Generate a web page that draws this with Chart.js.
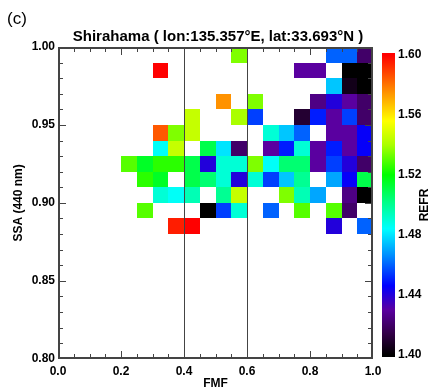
<!DOCTYPE html>
<html>
<head>
<meta charset="utf-8">
<script src="https://cdn.jsdelivr.net/npm/chart.js@4.4.0/dist/chart.umd.min.js"></script>
<style>html,body{margin:0;padding:0;background:#fff}</style>
</head>
<body>
<canvas id="myChart" width="436" height="391"></canvas>
<script>
// Нижние границы ячеек по FMF (шаг 0.05)
const fmfBins = [0.00, 0.05, 0.10, 0.15, 0.20, 0.25, 0.30, 0.35, 0.40, 0.45,
                 0.50, 0.55, 0.60, 0.65, 0.70, 0.75, 0.80, 0.85, 0.90, 0.95];
// Нижние границы ячеек по SSA (шаг 0.01), сверху вниз
const ssaBins = [0.99, 0.98, 0.97, 0.96, 0.95, 0.94, 0.93, 0.92, 0.91, 0.90, 0.89, 0.88];
const n = null;
// REFR для каждой ячейки: строка = ssaBins, столбец = fmfBins
const refr = [
  [n,n,n,n,n,n,n,n,n,n,n,1.535,n,n,n,n,n,1.46,1.46,1.42],
  [n,n,n,n,n,n,1.60,n,n,n,n,n,n,n,n,1.43,1.43,n,1.40,1.40],
  [n,n,n,n,n,n,n,n,n,n,n,n,n,n,n,n,n,1.475,1.405,1.40],
  [n,n,n,n,n,n,n,n,n,n,1.575,n,1.535,n,n,n,1.425,1.44,1.43,1.42],
  [n,n,n,n,n,n,n,n,1.545,n,n,1.54,1.455,n,n,1.41,1.45,1.43,1.455,1.42],
  [n,n,n,n,n,n,1.585,1.535,1.545,n,n,n,n,1.49,1.475,1.46,n,1.43,1.43,1.445],
  [n,n,n,n,n,n,1.485,1.545,n,1.51,1.48,1.42,n,1.43,1.45,1.49,1.43,1.45,1.43,1.445],
  [n,n,n,n,1.53,1.515,1.525,1.525,1.51,1.44,1.49,1.49,1.535,1.485,1.505,1.505,1.43,1.455,1.44,1.42],
  [n,n,n,n,n,1.525,1.515,n,1.51,1.505,1.49,1.44,1.49,1.455,1.475,1.50,n,1.47,1.445,1.51],
  [n,n,n,n,n,n,1.49,1.485,1.495,n,1.50,1.545,n,n,1.535,1.495,1.47,n,1.425,1.40],
  [n,n,n,n,n,1.53,n,n,n,1.40,1.455,1.49,n,1.46,n,1.53,n,1.53,1.42,n],
  [n,n,n,n,n,n,n,1.595,1.60,n,n,n,n,n,n,n,n,1.44,n,1.46]
];
const fmfStep = 0.05, ssaStep = 0.01;
const refLines = [0.4, 0.6];
const refrTicks = [1.40, 1.44, 1.48, 1.52, 1.56, 1.60];
const refrMin = 1.40, refrMax = 1.60;

// Палитра (rainbow + black)
const stops = [
  [0.00, 0, 0, 0], [0.07, 50, 0, 70], [0.15, 90, 0, 160], [0.23, 0, 0, 255],
  [0.33, 0, 140, 255], [0.42, 0, 255, 255], [0.52, 0, 255, 120], [0.60, 0, 255, 0],
  [0.70, 170, 255, 0], [0.78, 255, 255, 0], [0.88, 255, 140, 0], [1.00, 255, 0, 0]
];
function colorFor(v) {
  let t = Math.max(0, Math.min(1, (v - refrMin) / (refrMax - refrMin)));
  for (let i = 1; i < stops.length; i++) {
    if (t <= stops[i][0]) {
      const a = stops[i - 1], b = stops[i];
      const f = (t - a[0]) / (b[0] - a[0]);
      const c = [1, 2, 3].map(k => Math.round(a[k] + (b[k] - a[k]) * f));
      return 'rgb(' + c.join(',') + ')';
    }
  }
  return 'rgb(255,0,0)';
}

// Точки: центры ячеек
const cells = [];
ssaBins.forEach((s, r) => fmfBins.forEach((f, c) => {
  if (refr[r][c] !== null) cells.push({x: f + fmfStep / 2, y: s + ssaStep / 2, v: refr[r][c]});
}));

const fontFamily = "'Liberation Sans', Arial, sans-serif";
const font = {family: fontFamily, size: 12, weight: 'bold'};

const heatmap = {
  id: 'heatmap',
  beforeDatasetsDraw(chart) {
    const {ctx, scales: {x, y}} = chart;
    ctx.save();
    chart.data.datasets[0].data.forEach(p => {
      const x0 = Math.round(x.getPixelForValue(p.x - fmfStep / 2));
      const x1 = Math.round(x.getPixelForValue(p.x + fmfStep / 2));
      const y0 = Math.round(y.getPixelForValue(p.y + ssaStep / 2));
      const y1 = Math.round(y.getPixelForValue(p.y - ssaStep / 2));
      ctx.fillStyle = colorFor(p.v);
      ctx.fillRect(x0, y0, x1 - x0, y1 - y0);
    });
    ctx.restore();
  },
  afterDraw(chart) {
    const {ctx, scales: {x, y, refrAxis}} = chart;
    ctx.save();
    const L = Math.round(x.getPixelForValue(0)), R = Math.round(x.getPixelForValue(1)) - 1;
    const T = Math.round(y.getPixelForValue(1.0)), B = Math.round(y.getPixelForValue(0.8)) - 1;
    ctx.fillStyle = '#444';
    // вертикальные линии
    refLines.forEach(v => ctx.fillRect(Math.round(x.getPixelForValue(v)), T, 1, B - T));
    // рамка
    ctx.fillRect(L, T, R - L + 1, 2);
    ctx.fillRect(L, B - 1, R - L + 1, 2);
    ctx.fillRect(L, T, 2, B - T + 1);
    ctx.fillRect(R - 1, T, 2, B - T + 1);
    // засечки внутрь
    for (let i = 0; i <= 20; i++) {
      const px = Math.min(R, Math.round(x.getPixelForValue(i * 0.05)));
      const len = i % 4 === 0 ? 7 : 4;
      ctx.fillRect(px, B - len, 1, len);
      ctx.fillRect(px, T, 1, len + 1);
    }
    for (let i = 0; i <= 20; i++) {
      const py = Math.min(B, Math.round(y.getPixelForValue(0.8 + i * 0.01)));
      const len = i % 5 === 0 ? 7 : 4;
      ctx.fillRect(L, py, len + 1, 1);
      ctx.fillRect(R - len, py, len, 1);
    }

    // шкала цвета
    const cx0 = 382, cx1 = 395;
    const cy0 = Math.round(refrAxis.getPixelForValue(refrMax)) - 2;
    const cy1 = Math.round(refrAxis.getPixelForValue(refrMin)) + 2;
    for (let py = cy0; py < cy1; py++) {
      ctx.fillStyle = colorFor(refrAxis.getValueForPixel(py + 0.5));
      ctx.fillRect(cx0, py, cx1 - cx0, 1);
    }

    // подписи
    ctx.fillStyle = '#000';
    ctx.font = "bold 12px " + fontFamily;
    ctx.textAlign = 'center'; ctx.textBaseline = 'middle';
    ctx.translate(425, (cy0 + cy1) / 2);
    ctx.rotate(-Math.PI / 2);
    ctx.fillText('REFR', 0, 0);
    ctx.setTransform(1, 0, 0, 1, 0, 0);
    ctx.font = "17px " + fontFamily;
    ctx.textAlign = 'left';
    ctx.fillText('(c)', 7, 19);
    ctx.restore();
  }
};

let ctx = document.getElementById('myChart').getContext('2d');
let chart = new Chart(ctx, {
  type: 'scatter',
  data: {
    datasets: [{
      label: 'REFR',
      data: cells,
      pointRadius: 0,
      pointHoverRadius: 0
    }]
  },
  options: {
    responsive: false,
    devicePixelRatio: 1,
    animation: false,
    events: [],
    layout: {padding: 0},
    plugins: {
      legend: {display: false},
      tooltip: {enabled: false},
      title: {
        display: true,
        text: 'Shirahama ( lon:135.357°E, lat:33.693°N )',
        color: '#000',
        font: {family: fontFamily, size: 15, weight: 'bold'},
        padding: {top: 28, bottom: 1}
      }
    },
    scales: {
      x: {
        type: 'linear', min: 0, max: 1,
        grid: {display: false, drawTicks: false}, border: {display: false},
        ticks: {stepSize: 0.2, autoSkip: false, maxRotation: 0, padding: 6, color: '#000', font,
                callback: v => v.toFixed(1)},
        title: {display: true, text: 'FMF', color: '#000', font, padding: 0},
        afterFit(s) { s.height = 32; }
      },
      y: {
        type: 'linear', min: 0.8, max: 1.0,
        grid: {display: false, drawTicks: false}, border: {display: false},
        ticks: {stepSize: 0.05, padding: 3, color: '#000', font, callback: v => v.toFixed(2)},
        title: {display: true, text: 'SSA (440 nm)', color: '#000', font, padding: {top: 11, bottom: 0}},
        afterFit(s) { s.width = 58; }
      },
      refrAxis: {
        axis: 'y', type: 'linear', position: 'right',
        min: 1.3973, max: 1.6053,
        grid: {display: false, drawTicks: false}, border: {display: false},
        afterBuildTicks(s) { s.ticks = refrTicks.map(v => ({value: v})); },
        ticks: {padding: 25, color: '#000', font, callback: v => v.toFixed(2)},
        afterFit(s) { s.width = 63; }
      }
    }
  },
  plugins: [heatmap]
});
</script>
</body>
</html>
